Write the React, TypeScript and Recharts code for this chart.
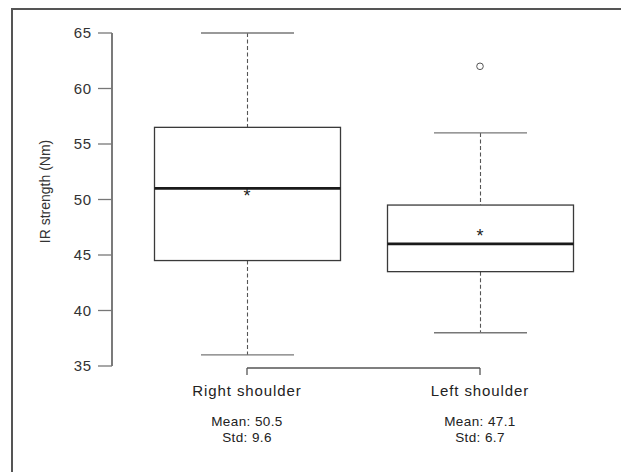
import React from 'react';
import {
  ComposedChart,
  Bar,
  Scatter,
  XAxis,
  YAxis,
  ReferenceLine,
} from 'recharts';

// values
const categories = ['Right shoulder', 'Left shoulder'];
const mins = [36, 38];
const q1s = [44.5, 43.5];
const medians = [51, 46];
const q3s = [56.5, 49.5];
const maxs = [65, 56];
const meanMarks = [50.7, 47.1];
const outliers: (number | null)[] = [null, 62];
const meanLabels = ['50.5', '47.1'];
const stdLabels = ['9.6', '6.7'];
const yTicks = [35, 40, 45, 50, 55, 60, 65];
const bracketLevel = 34.82;

const data = categories.map((name, i) => ({
  name,
  min: mins[i],
  q1: q1s[i],
  median: medians[i],
  q3: q3s[i],
  max: maxs[i],
  mean: meanMarks[i],
  outlier: outliers[i],
  meanLabel: meanLabels[i],
  stdLabel: stdLabels[i],
}));

const FONT = '"Liberation Sans", Arial, Helvetica, sans-serif';

// whole box drawn from the ranged bar [min, max]; inner values mapped linearly
const BoxShape = (props: any) => {
  const { x, y, width, height, payload } = props;
  if (payload == null || !height) return <g />;
  const { min, q1, median, q3, max } = payload;
  const py = (v: number) => y + ((max - v) / (max - min)) * height;
  const cx = x + width / 2;
  const capHalf = width / 4;
  return (
    <g>
      <line x1={cx} x2={cx} y1={py(max)} y2={py(q3)} stroke="#555" strokeWidth={1.1} strokeDasharray="4 2.5" />
      <line x1={cx} x2={cx} y1={py(q1)} y2={py(min)} stroke="#555" strokeWidth={1.1} strokeDasharray="4 2.5" />
      <line x1={cx - capHalf} x2={cx + capHalf} y1={py(max)} y2={py(max)} stroke="#777" strokeWidth={1.4} />
      <line x1={cx - capHalf} x2={cx + capHalf} y1={py(min)} y2={py(min)} stroke="#777" strokeWidth={1.4} />
      <rect
        x={x}
        y={py(q3)}
        width={width}
        height={py(q1) - py(q3)}
        fill="#fff"
        stroke="#3a3a3a"
        strokeWidth={1.3}
      />
      <line x1={x} x2={x + width} y1={py(median)} y2={py(median)} stroke="#1a1a1a" strokeWidth={2.8} />
    </g>
  );
};

const StarShape = (props: any) => {
  const { cx, cy } = props;
  if (cx == null || cy == null || isNaN(cy)) return <g />;
  return (
    <text x={cx} y={cy + 10.5} textAnchor="middle" fontSize={18} fontFamily={FONT} fill="#222">
      *
    </text>
  );
};

const OutlierShape = (props: any) => {
  const { cx, cy, payload } = props;
  if (payload == null || payload.outlier == null || cy == null || isNaN(cy)) return <g />;
  return <circle cx={cx} cy={cy} r={3.3} fill="none" stroke="#555" strokeWidth={1} />;
};

const CategoryTick = (props: any) => {
  const { x, y, index } = props;
  const row = data[index];
  if (!row) return <g />;
  return (
    <g>
      <line x1={x} x2={x} y1={y + 2} y2={y + 9} stroke="#555" strokeWidth={1.3} />
      <text x={x} y={y + 30} textAnchor="middle" fontSize={15} letterSpacing={0.9} fontFamily={FONT} fill="#222">
        {row.name}
      </text>
      <text x={x} y={y + 60} textAnchor="middle" fontSize={13.5} letterSpacing={0.4} fontFamily={FONT} fill="#222">
        {`Mean: ${row.meanLabel}`}
      </text>
      <text x={x} y={y + 75.5} textAnchor="middle" fontSize={13.5} letterSpacing={0.4} fontFamily={FONT} fill="#222">
        {`Std: ${row.stdLabel}`}
      </text>
    </g>
  );
};

const YLabel = (props: any) => {
  const vb = props.viewBox || { x: 0, y: 33, width: 112, height: 333 };
  const lx = vb.x + 50;
  const ly = vb.y + vb.height / 2 - 8;
  return (
    <text
      x={lx}
      y={ly}
      transform={`rotate(-90, ${lx}, ${ly})`}
      textAnchor="middle"
      fontSize={14}
      fontFamily={FONT}
      fill="#333"
    >
      IR strength (Nm)
    </text>
  );
};

export default function App() {
  return (
    <div
      style={{
        position: 'fixed',
        left: 0,
        top: 0,
        width: 621,
        height: 472,
        background: '#fff',
        overflow: 'hidden',
      }}
    >
      {/* cropped frame of the original figure */}
      <div
        style={{
          position: 'absolute',
          left: 11,
          top: 8,
          width: 700,
          height: 600,
          borderTop: '2px solid #555',
          borderLeft: '2px solid #555',
        }}
      />
      <div style={{ position: 'absolute', left: 0, top: 0 }}>
        <ComposedChart
          width={621}
          height={472}
          data={data}
          margin={{ top: 33, right: 24.5, bottom: 26, left: 0 }}
        >
          <XAxis
            dataKey="name"
            type="category"
            padding={{ left: 18.5, right: 0 }}
            axisLine={false}
            tickLine={false}
            tickSize={0}
            tickMargin={0}
            interval={0}
            height={80}
            tick={<CategoryTick />}
          />
          <YAxis
            type="number"
            domain={[35, 65]}
            ticks={yTicks}
            width={112}
            tickSize={14}
            tickMargin={6}
            axisLine={{ stroke: '#333', strokeWidth: 1.3 }}
            tickLine={{ stroke: '#777', strokeWidth: 1.3 }}
            tick={{ fill: '#333', fontSize: 15, fontFamily: FONT, letterSpacing: 0.8 }}
            label={<YLabel />}
          />
          <ReferenceLine
            segment={[
              { x: categories[0], y: bracketLevel },
              { x: categories[1], y: bracketLevel },
            ]}
            ifOverflow="visible"
            stroke="#555"
            strokeWidth={1.3}
          />
          <Bar
            dataKey={(d: any) => [d.min, d.max]}
            barSize={186}
            shape={<BoxShape />}
            isAnimationActive={false}
          />
          <Scatter dataKey="mean" shape={<StarShape />} isAnimationActive={false} />
          <Scatter dataKey="outlier" shape={<OutlierShape />} isAnimationActive={false} />
        </ComposedChart>
      </div>
    </div>
  );
}
